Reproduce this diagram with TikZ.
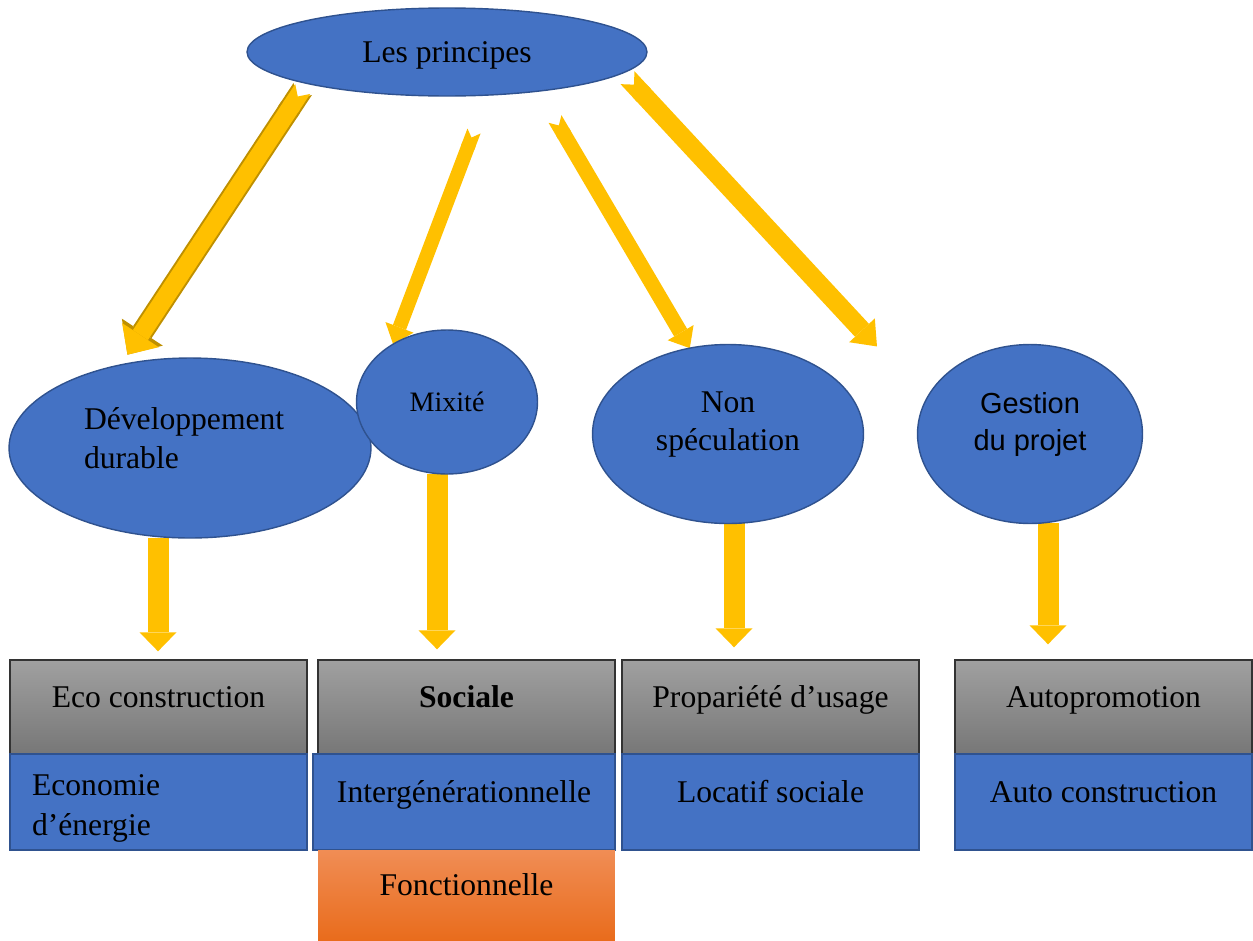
\documentclass[tikz,border=0pt]{standalone}
\usepackage{fontspec}
\setmainfont{Liberation Serif}
\newfontfamily\arial{Liberation Sans}
\usetikzlibrary{shapes.geometric,arrows.meta,backgrounds}
\definecolor{bleu}{HTML}{4472C4}
\definecolor{bleufonce}{HTML}{2F528F}
\definecolor{jaune}{HTML}{FFC000}
\definecolor{jaunefonce}{HTML}{BF9000}
\definecolor{grishaut}{HTML}{A0A0A0}
\definecolor{grisbas}{HTML}{777777}
\definecolor{orhaut}{HTML}{F08D55}
\definecolor{orbas}{HTML}{E96C1C}
% raise ellipse text without changing the node size
\newcommand{\monte}[2][0.04cm]{\raisebox{#1}[0pt][0pt]{#2}}

\begin{document}
\begin{tikzpicture}[x=0.02cm, y=-0.02cm,
  bulle/.style={ellipse, draw=bleufonce, line width=0.8pt, fill=bleu,
    inner sep=0pt, outer sep=0pt, font=\fontsize{18}{22}\selectfont},
  boite/.style={line width=0.8pt, minimum width=5.94cm, inner sep=0pt,
    text height=0.4cm, text depth=0.4cm, font=\fontsize{18}{22}\selectfont},
  titre/.style={boite, draw=black!80, top color=grishaut, bottom color=grisbas,
    minimum height=1.88cm},
  detail/.style={boite, draw=bleufonce, fill=bleu, minimum height=1.92cm},
  vfleche/.style={draw=jaune, line width=0.42cm,
    -{Triangle[width=0.74cm, length=0.38cm, line width=0pt]}},
  dfleche/.style n args={3}{draw=jaune, line width=#1,
    {Triangle Cap[reversed]}-{Triangle[width=#2, length=#3, line width=0pt]}}
]
\useasboundingbox (0,0) rectangle (1253,940);

% ellipses
\node[bulle, minimum width=8cm, minimum height=1.76cm] (princ) at (447,52)
  {\monte[-0.21cm]{Les principes}};
\node[bulle, minimum width=7.24cm, minimum height=3.6cm] (dev) at (190,448)
  {\monte{\parbox{4.24cm}{\raggedright Développement\\durable}}};
\node[bulle, minimum width=3.62cm, minimum height=2.88cm,
  font=\fontsize{16}{19}\selectfont] (mix) at (447,402) {Mixité};
\node[bulle, minimum width=5.42cm, minimum height=3.58cm] (nons) at (728,434)
  {\monte{\parbox{3.2cm}{\centering Non\\spéculation}}};
\node[bulle, minimum width=4.5cm, minimum height=3.58cm,
  font=\arial\fontsize{16.5}{21}\selectfont] (ges) at (1030,434)
  {\monte{\parbox{2.6cm}{\centering Gestion\\du projet}}};

% boxes
\node[titre] (eco) at (158.5,707) {Eco construction};
\node[detail, text height={}, text depth={}, font=\fontsize{18}{22.5}\selectfont]
  (econ) at (158.5,802) {\monte[-0.28cm]{\parbox{5.06cm}{Economie\\d’énergie}}};
\node[titre] (soc) at (466.5,707) {\textbf{Sociale}};
\node[detail, minimum width=6.04cm] (inter) at (464,802) {Intergénérationnelle};
\node[boite, top color=orhaut, bottom color=orbas, minimum height=1.8cm] (fonc)
  at (466.5,895) {Fonctionnelle};
\node[titre] (prop) at (770.5,707) {Propariété d’usage};
\node[detail] (loc) at (770.5,802) {Locatif sociale};
\node[titre] (autop) at (1103.5,707) {Autopromotion};
\node[detail] (autoc) at (1103.5,802) {Auto construction};

% arrows
\begin{scope}[on background layer]
\draw[dfleche={0.44cm}{0.98cm}{0.54cm}, draw=jaunefonce]
  ([shift={(-12,4)}]princ.194) -- ([shift={(-5,-8)}]dev.124);
\draw[dfleche={0.36cm}{0.88cm}{0.47cm}]
  ([shift={(-12,4)}]princ.194) -- ([shift={(-5,-8)}]dev.124);
\draw[dfleche={0.28cm}{0.6cm}{0.36cm}] ([shift={(27,35)}]princ.south) -- (mix.133);
\draw[dfleche={0.3cm}{0.6cm}{0.36cm}] ([shift={(108,23)}]princ.south) -- (nons.114);
\draw[dfleche={0.38cm}{0.7cm}{0.44cm}] ([shift={(12,2)}]princ.352) -- ([shift={(-62,-35)}]ges.150);

\draw[vfleche, shorten >=0.16cm] ([xshift=-0.64cm]dev.south) coordinate (d1) -- (d1 |- eco.north);
\draw[vfleche, shorten >=0.2cm] ([xshift=-0.2cm]mix.south) coordinate (d2) -- (d2 |- soc.north);
\draw[vfleche, shorten >=0.24cm] ([xshift=0.12cm]nons.south) coordinate (d3) -- (d3 |- prop.north);
\draw[vfleche, shorten >=0.3cm] ([xshift=0.36cm]ges.south) coordinate (d4) -- (d4 |- autop.north);
\end{scope}
\end{tikzpicture}
\end{document}
